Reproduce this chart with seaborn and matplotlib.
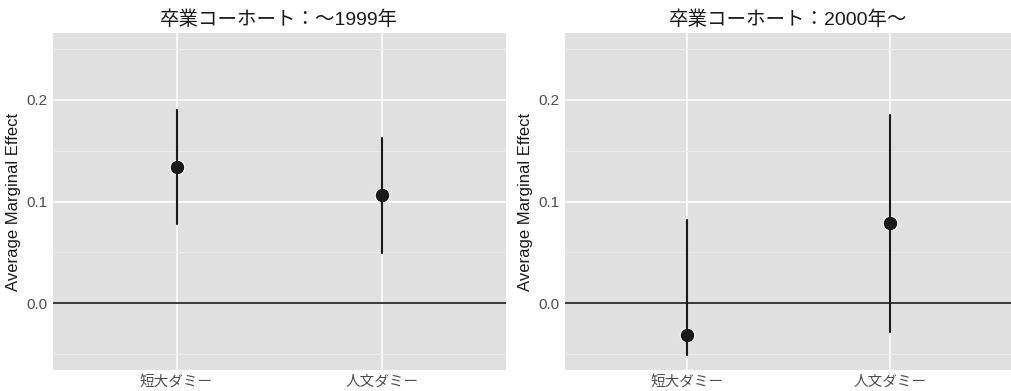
import seaborn as sns
import pandas as pd
import matplotlib.pyplot as plt
from matplotlib.ticker import MultipleLocator

# データ
categories = ["短大ダミー", "人文ダミー"]
titles = ["卒業コーホート：～1999年", "卒業コーホート：2000年～"]
est_1999 = [0.134, 0.106]
low_1999 = [0.078, 0.049]
high_1999 = [0.190, 0.163]
est_2000 = [-0.032, 0.079]
low_2000 = [-0.051, -0.029]
high_2000 = [0.082, 0.185]

sns.set_theme(style="darkgrid")
plt.rcParams['font.family'] = ['Liberation Sans', 'Noto Sans CJK JP']

fig = plt.figure(figsize=(10.12, 3.91), dpi=100)
W, H = 1012, 391
ax1 = fig.add_axes([53 / W, (H - 370) / H, 453 / W, 337 / H])
ax2 = fig.add_axes([565 / W, (H - 370) / H, 447 / W, 337 / H])


def make_df(est, low, high):
    # 下限・推定値・上限の3点 → median と 100% 区間で点と線を描く
    rows = []
    for c, e, l, h in zip(categories, est, low, high):
        for v in (l, e, h):
            rows.append({"cat": c, "val": v})
    return pd.DataFrame(rows)


panels = [(ax1, est_1999, low_1999, high_1999, titles[0]),
          (ax2, est_2000, low_2000, high_2000, titles[1])]

for ax, est, low, high, title in panels:
    df = make_df(est, low, high)
    ax.set_facecolor("#e1e1e1")
    ax.axhline(0, color="#1a1a1a", lw=1.2, zorder=2)
    sns.pointplot(data=df, x="cat", y="val", order=categories,
                  estimator="median", errorbar=("pi", 100),
                  linestyle="none", color="#1a1a1a",
                  markersize=10.5, markeredgecolor="white", markeredgewidth=0.8,
                  err_kws={"linewidth": 1.5}, ax=ax, zorder=3)
    ax.set_xlim(-0.6, 1.6)
    ax.set_ylim(-0.066, 0.266)
    ax.yaxis.set_major_locator(MultipleLocator(0.1))
    ax.yaxis.set_minor_locator(MultipleLocator(0.05))
    ax.yaxis.set_major_formatter(plt.FuncFormatter(lambda v, p: f"{v:.1f}"))
    ax.grid(which="major", color="white", lw=1.1)
    ax.grid(which="minor", axis="y", color="#ececec", lw=0.6)
    ax.set_axisbelow(True)
    for s in ax.spines.values():
        s.set_visible(False)
    ax.tick_params(axis="y", which="major", length=3, color="#555555",
                   labelsize=11, labelcolor="#4d4d4d", pad=1)
    ax.tick_params(axis="y", which="minor", length=0)
    ax.tick_params(axis="x", length=0, labelsize=10.5, labelcolor="#4d4d4d", pad=3)
    ax.set_xlabel("")
    ax.set_ylabel("Average Marginal Effect", fontsize=12, color="#1a1a1a", labelpad=4)
    ax.set_title(title, fontsize=14, color="#1a1a1a", pad=6)

plt.savefig("out.png", dpi=100)
